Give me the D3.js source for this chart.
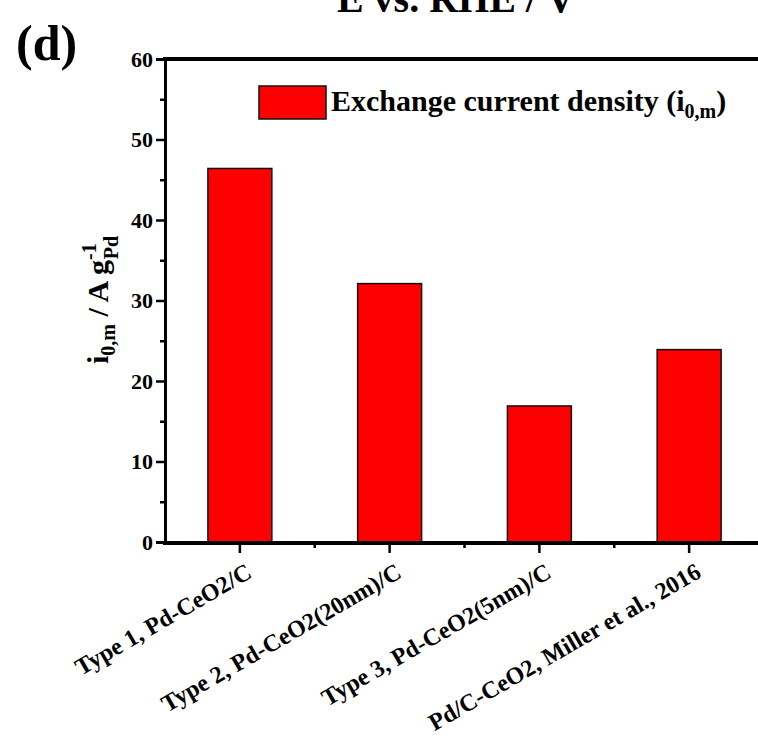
<!DOCTYPE html>
<html><head><meta charset="utf-8">
<script src="https://cdn.jsdelivr.net/npm/d3@7"></script>
<style>body{margin:0;background:#fff}svg{display:block}text{font-family:"Liberation Serif","Times New Roman",serif;font-weight:bold}</style>
</head><body><svg id="c" width="758" height="741"></svg>
<script>
const categories = ["Type 1, Pd-CeO2/C","Type 2, Pd-CeO2(20nm)/C","Type 3, Pd-CeO2(5nm)/C","Pd/C-CeO2, Miller et al., 2016"];
const values = [46.4, 32.1, 16.9, 23.9];
const yTicks = [0,10,20,30,40,50,60];
const yMinorTicks = [5,15,25,35,45,55];
const legendLabel = "Exchange current density";

const svg = d3.select("#c");
const L = 165, R = 764, T = 59, B = 542;
const x = d3.scaleBand().domain(categories).range([L,R]).paddingInner(0.573).paddingOuter(0.2865);
const y = d3.scaleLinear().domain([0,60]).range([B,T]);

// title (cut off at top, as in the reference)
svg.append("text").attr("x",456).attr("y",12).attr("text-anchor","middle").attr("font-size",40).text("E vs. RHE / V");
svg.append("text").attr("x",16).attr("y",60).attr("font-size",50).text("(d)");

// bars
svg.selectAll("rect.bar").data(values).join("rect").attr("class","bar")
  .attr("x",(d,i)=>x(categories[i])).attr("width",x.bandwidth())
  .attr("y",d=>y(d)).attr("height",d=>B-y(d))
  .attr("fill","#ff0000").attr("stroke","#111").attr("stroke-width",1.5);

// y axis
const ya = svg.append("g").attr("transform",`translate(${L},0)`)
  .call(d3.axisLeft(y).tickValues(yTicks).tickSize(9).tickPadding(3).tickFormat(d3.format("d")));
ya.select(".domain").attr("stroke","#000").attr("stroke-width",3);
ya.selectAll(".tick line").attr("stroke-width",2.5);
ya.selectAll("text").attr("font-size",22).attr("font-family","Liberation Serif").attr("font-weight","bold");
svg.append("g").attr("transform",`translate(${L},0)`)
  .call(d3.axisLeft(y).tickValues(yMinorTicks).tickSize(5).tickFormat(""))
  .call(g=>g.select(".domain").remove()).selectAll("line").attr("stroke-width",2.5);

// x axis
const xa = svg.append("g").attr("transform",`translate(0,${B})`)
  .call(d3.axisBottom(x).tickSize(11).tickPadding(0).tickFormat(""));
xa.select(".domain").remove();
xa.selectAll(".tick line").attr("stroke-width",2.5);
const minorX = d3.range(categories.length+1).map(i=>x(categories[0]) - x.step()*x.paddingOuter() + i*x.step());
svg.append("g").selectAll("line").data(minorX.slice(1,-1)).join("line")
  .attr("x1",d=>d).attr("x2",d=>d).attr("y1",B).attr("y2",B+6).attr("stroke","#000").attr("stroke-width",2.5);
svg.append("line").attr("x1",L-2).attr("x2",758).attr("y1",B+1).attr("y2",B+1).attr("stroke","#000").attr("stroke-width",4);
svg.append("line").attr("x1",L-2).attr("x2",758).attr("y1",T).attr("y2",T).attr("stroke","#000").attr("stroke-width",4);

// x labels
svg.append("g").selectAll("text").data(categories).join("text")
  .attr("transform",(d,i)=>`translate(${x(d)+x.bandwidth()/2+5},${B+20}) rotate(-30)`)
  .attr("text-anchor","end").attr("dy","0.7em").attr("font-size",24).text(d=>d);

// y label
const yl = svg.append("text").attr("transform","translate(108,300) rotate(-90)").attr("text-anchor","middle").attr("font-size",30);
yl.append("tspan").text("i");
yl.append("tspan").attr("font-size",20).attr("dy",7).text("0,m");
yl.append("tspan").attr("dy",-7).text(" / A g");
yl.append("tspan").attr("font-size",20).attr("dy",-12).text("-1");
yl.append("tspan").attr("font-size",20).attr("dx",-16).attr("dy",22).text("Pd");

// legend
svg.append("rect").attr("x",259).attr("y",86).attr("width",67).attr("height",33).attr("fill","#ff0000").attr("stroke","#111").attr("stroke-width",1.5);
const lt = svg.append("text").attr("x",331).attr("y",111).attr("font-size",30);
lt.append("tspan").text(legendLabel+" (i");
lt.append("tspan").attr("font-size",20).attr("dy",7).text("0,m");
lt.append("tspan").attr("dy",-7).text(")");
</script></body></html>
